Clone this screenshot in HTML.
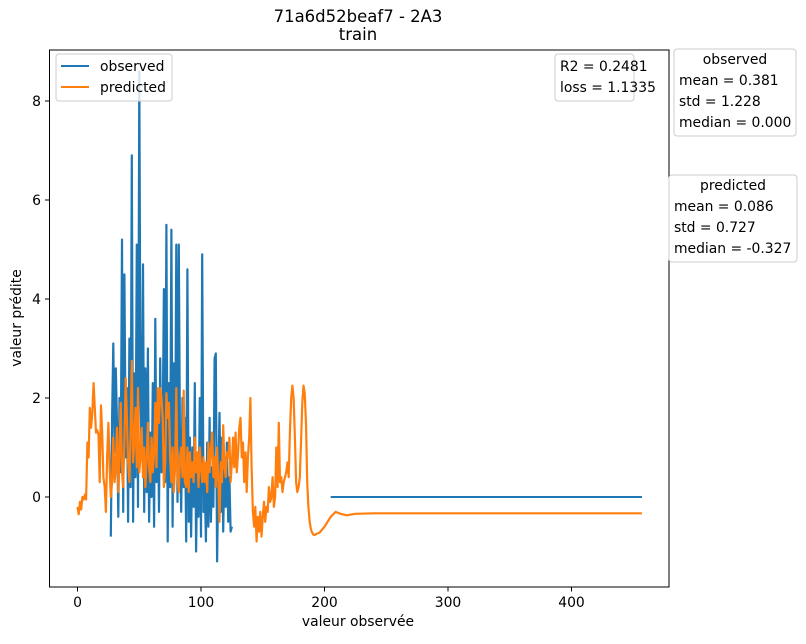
<!DOCTYPE html>
<html><head><meta charset="utf-8"><style>
body{margin:0;background:#fff;font-family:"DejaVu Sans","Liberation Sans",sans-serif;}
svg text{font-family:"DejaVu Sans","Liberation Sans",sans-serif;font-size:13.9px;fill:#000;}
svg text.title{font-size:16.5px;}
</style></head><body>
<svg id="chart" width="806" height="640" xmlns="http://www.w3.org/2000/svg">
<rect width="806" height="640" fill="#fff"/>
<text class="title" x="358" y="22" text-anchor="middle">71a6d52beaf7 - 2A3</text>
<text class="title" x="358" y="40" text-anchor="middle">train</text>
<g id="plot"></g>
<rect x="49.5" y="50" width="619.5" height="537" fill="none" stroke="#000" stroke-width="1"/>
<text x="358" y="626" text-anchor="middle">valeur observée</text>
<text transform="translate(21,318) rotate(-90)" text-anchor="middle">valeur prédite</text>
<g>
<rect x="56" y="54" width="116" height="47" rx="3" fill="#fff" fill-opacity="0.8" stroke="#ccc"/>
<g><line x1="61" y1="66" x2="89" y2="66" stroke="#1f77b4" stroke-width="2"/><text x="100" y="71">observed</text></g>
<g><line x1="61" y1="87" x2="89" y2="87" stroke="#ff7f0e" stroke-width="2"/><text x="100" y="92">predicted</text></g>
</g>
<g>
<rect x="555" y="54" width="79" height="47" rx="3" fill="#fff" stroke="#ccc"/>
<text x="560" y="71">R2 = 0.2481</text><text x="560" y="92">loss = 1.1335</text>
</g>
<g>
<rect x="674" y="49" width="122" height="87" rx="3" fill="#fff" stroke="#ccc"/>
<text x="735" y="64" text-anchor="middle">observed</text>
<text x="679" y="85">mean = 0.381</text><text x="679" y="106">std = 1.228</text><text x="679" y="127">median = 0.000</text>
</g>
<g>
<rect x="669" y="175" width="128" height="87" rx="3" fill="#fff" stroke="#ccc"/>
<text x="733" y="190" text-anchor="middle">predicted</text>
<text x="674" y="211">mean = 0.086</text><text x="674" y="232">std = 0.727</text><text x="674" y="253">median = -0.327</text>
</g>
</svg>
<script>
const xTicks=[0,100,200,300,400];
const yTicks=[0,2,4,6,8];
const obsX0=27;
const obsY=[-0.8,1.6,3.1,0.9,2.6,1.5,-0.4,2.0,0.5,5.2,-0.3,4.5,0.8,2.2,-0.5,3.2,0.2,6.9,-0.5,2.5,0.4,5.1,-0.2,8.6,2.0,0.8,4.7,-0.3,2.6,0.1,3.0,-0.5,1.3,0.0,2.3,-0.6,3.6,0.3,1.9,-0.3,2.8,0.5,1.4,4.2,0.3,5.5,-0.9,2.3,0.2,5.4,-0.6,2.7,0.6,5.1,-0.1,5.1,1.0,-0.3,2.0,0.2,1.6,-0.9,4.6,-0.5,1.2,-0.8,1.0,-0.2,2.3,-1.1,0.8,-0.4,2.0,-0.8,4.9,-0.3,0.4,-0.9,1.1,-0.6,1.6,-0.5,0.6,-0.2,2.8,2.9,-1.3,0.4,1.7,-0.3,1.2,-0.7,0.8,-0.2,1.1,-0.5,0.4,-0.7,-0.6];
const obsTailX=[205,457];
const obsTailY=[0,0];
const predY=[-0.2,-0.35,-0.1,-0.25,0.0,-0.05,0.05,-0.05,1.1,0.8,
1.8,1.4,1.7,2.3,1.8,1.3,1.35,1.25,0.3,1.85,
1.3,0.4,0.2,-0.3,0.8,1.5,0.6,0.0,0.3,1.2,
0.3,0.6,1.4,0.1,0.9,1.9,0.5,0.2,1.1,2.4,
1.6,0.7,0.3,1.3,2.75,0.7,1.1,1.8,0.6,2.2,
0.5,0.8,1.4,0.4,1.0,0.2,0.8,1.5,0.6,0.3,
1.2,0.5,0.9,1.9,0.6,2.2,1.5,2.2,2.0,1.6,
0.2,0.7,2.1,1.6,1.9,0.8,0.3,1.0,0.1,0.6,
2.2,0.4,0.1,0.8,1.0,0.4,2.15,0.3,0.2,1.0,
0.1,0.9,0.4,0.7,0.3,1.2,0.5,0.9,0.2,1.0,
0.6,0.3,0.8,0.3,0.7,0.1,1.1,0.5,0.9,1.3,
0.4,0.8,0.2,1.0,0.4,-0.5,0.7,0.3,1.45,0.6,
0.4,0.9,0.8,1.2,0.3,0.7,1.2,0.6,1.3,0.5,
0.9,1.4,1.6,0.8,1.1,0.3,0.9,0.1,0.8,1.2,
2.0,0.6,-0.3,-0.6,-0.2,-0.9,-0.4,-0.7,-0.3,-0.8,
-0.4,-0.1,-0.5,-0.2,-0.3,0.2,-0.1,0.0,0.4,-0.2,
0.0,1.0,0.2,1.5,0.3,0.4,0.1,0.3,0.4,0.5,
0.7,0.4,1.3,2.0,2.25,2.0,1.2,0.3,0.1,0.2,
0.4,1.1,1.9,2.25,2.1,1.5,0.3,-0.2,-0.5,-0.65,
-0.72,-0.76,-0.77,-0.75];
const predTailX=[196,200,205,209,213,218,225,240,457];
const predTailY=[-0.72,-0.6,-0.4,-0.3,-0.34,-0.37,-0.34,-0.33,-0.33];
const X0=77.5,XS=1.235,Y0=497,YS=49.5;
function sx(v){return X0+XS*v;}
function sy(v){return Y0-YS*v;}
const NS='http://www.w3.org/2000/svg';
const plot=document.getElementById('plot');
function mk(tag,attrs){const e=document.createElementNS(NS,tag);for(const k in attrs)e.setAttribute(k,attrs[k]);plot.appendChild(e);return e;}
xTicks.forEach(t=>{
const l=mk('line',{x1:sx(t),x2:sx(t),y1:587,y2:591.5,stroke:'#000'});


const tx=mk('text',{x:sx(t),y:607,'text-anchor':'middle'});tx.textContent=t;


});
yTicks.forEach(t=>{
const l=mk('line',{x1:45,x2:49.5,y1:sy(t),y2:sy(t),stroke:'#000'});


const tx=mk('text',{x:41,y:sy(t)+5,'text-anchor':'end'});tx.textContent=t;


});
function pts(xs,ys){return xs.map((x,i)=>sx(x).toFixed(1)+','+sy(ys[i]).toFixed(1)).join(' ');}
const obsX=obsY.map((_,i)=>obsX0+i);
const o1=mk('polyline',{points:pts(obsX,obsY),fill:'none',stroke:'#1f77b4','stroke-width':2.2,'stroke-linejoin':'round'});


const o2=mk('polyline',{points:pts(obsTailX,obsTailY),fill:'none',stroke:'#1f77b4','stroke-width':2});


const pX=predY.map((_,i)=>i).concat(predTailX);
const pY=predY.concat(predTailY);
const p=mk('polyline',{points:pts(pX,pY),fill:'none',stroke:'#ff7f0e','stroke-width':2.2,'stroke-linejoin':'round'});


</script>
</body></html>
